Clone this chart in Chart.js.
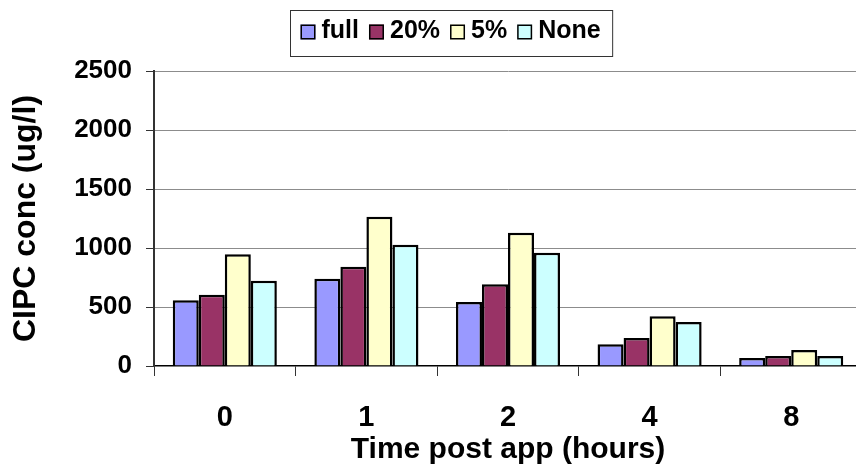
<!DOCTYPE html>
<html>
<head>
<meta charset="utf-8">
<title>CIPC concentration</title>
<script src="https://cdn.jsdelivr.net/npm/chart.js@4.4.0/dist/chart.umd.min.js"></script>
<style>
  html, body { margin: 0; padding: 0; background: #fff; overflow: hidden; }
  #wrap { width: 870px; height: 472px; }
</style>
</head>
<body>
<div id="wrap"><canvas id="cipc-chart" width="870" height="472"></canvas></div>
<script>
// hours after application
const timePoints = ['0', '1', '2', '4', '8'];
const seriesNames = ['full', '20%', '5%', 'None'];
const fullValues = [557, 740, 542, 184, 68];
const pct20Values = [604, 842, 692, 237, 85];
const pct5Values = [946, 1265, 1130, 421, 136];
const noneValues = [723, 1028, 960, 373, 85];
const yTicks = [0, 500, 1000, 1500, 2000, 2500];
const seriesColors = ['#9999FF', '#993366', '#FFFFCC', '#CCFFFF'];

const FONT = '"Liberation Sans", Arial, sans-serif';

// Excel-style legend: swatches + labels inside a thin frame
const boxedLegend = {
    id: 'boxedLegend',
    afterDraw(chart) {
        const ctx = chart.ctx;
        const sw = 15, gapText = 6, gapItem = 10, padL = 10, padR = 12;
        const top = 10, bottom = 56, midY = 31;
        ctx.save();
        ctx.font = 'bold 25px ' + FONT;
        const items = chart.data.datasets.map(ds => ({
            label: ds.label,
            color: ds.backgroundColor,
            w: ctx.measureText(ds.label).width
        }));
        const inner = items.reduce((s, it) => s + sw + gapText + it.w, 0) + gapItem * (items.length - 1);
        const boxW = inner + padL + padR;
        const left = Math.round(451 - boxW / 2) + 0.5;

        ctx.strokeStyle = '#333';
        ctx.lineWidth = 1;
        ctx.strokeRect(left, top + 0.5, boxW, bottom - top);

        let x = left + padL;
        ctx.textBaseline = 'middle';
        items.forEach(it => {
            ctx.fillStyle = it.color;
            ctx.fillRect(x, midY - sw / 2 + 1, sw, sw);
            ctx.strokeStyle = '#000';
            ctx.lineWidth = 1.5;
            ctx.strokeRect(x + 0.75, midY - sw / 2 + 1.75, sw - 1.5, sw - 1.5);
            ctx.fillStyle = '#000';
            ctx.fillText(it.label, x + sw + gapText, midY);
            x += sw + gapText + it.w + gapItem;
        });
        ctx.restore();
    }
};

const seriesData = [fullValues, pct20Values, pct5Values, noneValues];

const ctx = document.getElementById('cipc-chart').getContext('2d');
new Chart(ctx, {
    type: 'bar',
    data: {
        labels: timePoints,
        datasets: seriesNames.map((name, i) => ({
            label: name,
            data: seriesData[i],
            backgroundColor: seriesColors[i],
            borderColor: '#000',
            borderWidth: 2.5,
            barPercentage: 1.0,
            categoryPercentage: 0.735
        }))
    },
    options: {
        responsive: false,
        animation: false,
        layout: { padding: { top: 71, right: 8, bottom: 0, left: 0 } },
        plugins: {
            legend: { display: false },
            tooltip: { enabled: false }
        },
        scales: {
            x: {
                afterFit: s => { s.height = 106; },
                grid: {
                    offset: true,
                    drawOnChartArea: false,
                    tickLength: 10,
                    color: '#333'
                },
                border: { color: '#000', width: 1.5 },
                ticks: {
                    color: '#000',
                    padding: 25,
                    font: { family: FONT, size: 29, weight: 'bold' }
                },
                title: {
                    display: true,
                    text: 'Time post app (hours)',
                    color: '#000',
                    font: { family: FONT, size: 30, weight: 'bold' },
                    padding: { top: 0, bottom: 4 }
                }
            },
            y: {
                min: 0,
                max: 2500,
                afterBuildTicks: s => { s.ticks = yTicks.map(v => ({ value: v })); },
                afterFit: s => { s.width = 154; },
                grid: {
                    color: c => c.tick && c.tick.value === 0 ? 'rgba(0,0,0,0)' : '#8c8c8c',
                    tickColor: '#333',
                    tickLength: 8,
                    lineWidth: 1
                },
                border: { color: '#333', width: 2 },
                ticks: {
                    color: '#000',
                    padding: 14,
                    font: { family: FONT, size: 26, weight: 'bold' },
                    callback: v => String(v)
                },
                title: {
                    display: true,
                    text: 'CIPC conc (ug/l)',
                    color: '#000',
                    font: { family: FONT, size: 32, weight: 'bold' },
                    padding: { top: 7, bottom: 0 }
                }
            }
        }
    },
    plugins: [boxedLegend]
});
</script>
</body>
</html>
